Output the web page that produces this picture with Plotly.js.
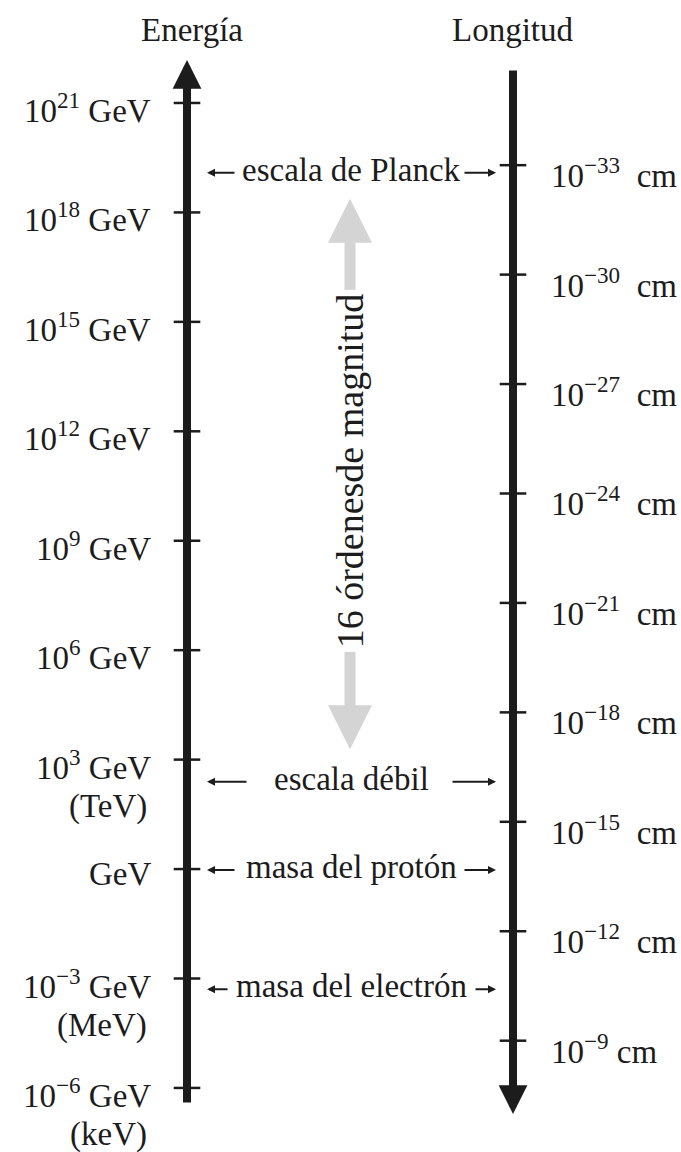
<!DOCTYPE html>
<html><head><meta charset="utf-8">
<script src="https://cdn.plot.ly/plotly-3.0.1.min.js"></script>
<style>html,body{margin:0;padding:0;background:#fff}</style>
</head><body><div id="chart" style="width:681px;height:1152px"></div>
<script>
// ---- data ----
const axisTitles = ['Energía', 'Longitud'];
const energyExponents = [21, 18, 15, 12, 9, 6, 3, 0, -3, -6];
const energyTickLabels = ['10<sup>21</sup> GeV', '10<sup>18</sup> GeV', '10<sup>15</sup> GeV', '10<sup>12</sup> GeV',
  '10<sup>9</sup> GeV', '10<sup>6</sup> GeV', '10<sup>3</sup> GeV', 'GeV', '10<sup>−3</sup> GeV', '10<sup>−6</sup> GeV'];
const energyUnitNotes = ['', '', '', '', '', '', '(TeV)', '', '(MeV)', '(keV)'];
const lengthExponents = [-33, -30, -27, -24, -21, -18, -15, -12, -9];
const lengthTickLabels = ['10<sup>−33</sup>\u00a0\u00a0cm', '10<sup>−30</sup>\u00a0\u00a0cm', '10<sup>−27</sup>\u00a0\u00a0cm',
  '10<sup>−24</sup>\u00a0\u00a0cm', '10<sup>−21</sup>\u00a0\u00a0cm', '10<sup>−18</sup>\u00a0\u00a0cm',
  '10<sup>−15</sup>\u00a0\u00a0cm', '10<sup>−12</sup>\u00a0\u00a0cm', '10<sup>−9</sup>\u00a0cm'];
const scaleNames = ['escala de Planck', 'escala débil', 'masa del protón', 'masa del electrón'];
const scaleEnergiesGeV = [1.22e19, 246, 0.938, 0.000511];
const spanLabel = '16 órdenesde magnitud';
const HBARC_GEV_CM = 1.97327e-14;   // E·L conversion

// ---- layout / style ----
const W = 681, H = 1152;
const PX_PER_DECADE = 36.48;
const E_TOP = 23.823;
const E_BOTTOM = E_TOP - H / PX_PER_DECADE;
const C = Math.log10(HBARC_GEV_CM);
const L_BOTTOM = C - E_BOTTOM, L_TOP = C - E_TOP;
const XL = 187, XR = 513;
const FONT = 'Liberation Serif';
const INK = '#1c1c1c';
const FS = 33;

const scaleLog = scaleEnergiesGeV.map(e => Math.log10(e));
const leftTails = [236, 248, 236, 229];
const rightTails = [463, 451, 463, 474];

const traces = [
  {x: energyExponents.map(() => XL), y: energyExponents, mode: 'markers', xaxis: 'x', yaxis: 'y',
   marker: {symbol: 'line-ew', size: 19, line: {width: 2.5, color: INK}}, hoverinfo: 'skip'},
  {x: lengthExponents.map(() => XR), y: lengthExponents, mode: 'markers', xaxis: 'x', yaxis: 'y2',
   marker: {symbol: 'line-ew', size: 19, line: {width: 2.5, color: INK}}, hoverinfo: 'skip'}
];

const ann = [];
// axis arrows
ann.push({x: XL, y: E_TOP - 60 / PX_PER_DECADE, ax: XL, ay: E_TOP - 1104 / PX_PER_DECADE,
  xref: 'x', yref: 'y', axref: 'x', ayref: 'y', text: '', showarrow: true,
  arrowhead: 2, arrowsize: 0.72, arrowwidth: 8, arrowcolor: INK});
ann.push({x: XR, y: C - (E_TOP - 1114 / PX_PER_DECADE), ax: XR, ay: C - (E_TOP - 69 / PX_PER_DECADE),
  xref: 'x', yref: 'y2', axref: 'x', ayref: 'y2', text: '', showarrow: true,
  arrowhead: 2, arrowsize: 0.72, arrowwidth: 8, arrowcolor: INK});
// titles
axisTitles.forEach((t, i) => ann.push({x: i === 0 ? 192 : 512, y: 1 - 30 / H, xref: 'x', yref: 'paper',
  yanchor: 'middle', xanchor: 'center',
  text: t, showarrow: false, font: {family: FONT, size: FS, color: INK}}));
// energy labels
energyExponents.forEach((e, i) => {
  ann.push({x: 153, y: e, xref: 'x', yref: 'y', xanchor: 'right', yanchor: 'middle', yshift: -5,
    text: energyTickLabels[i], showarrow: false, font: {family: FONT, size: FS, color: INK}});
  if (energyUnitNotes[i]) ann.push({x: 149, y: e, xref: 'x', yref: 'y', xanchor: 'right', yanchor: 'middle', yshift: -47,
    text: energyUnitNotes[i], showarrow: false, font: {family: FONT, size: FS, color: INK}});
});
// length labels
lengthExponents.forEach((l, i) => {
  ann.push({x: 549, y: l, xref: 'x', yref: 'y2', xanchor: 'left', yanchor: 'middle', yshift: -8,
    text: lengthTickLabels[i], showarrow: false, font: {family: FONT, size: FS, color: INK}});
});
// scale markers
scaleNames.forEach((n, i) => {
  const y = scaleLog[i];
  ann.push({x: 351, y: y, xref: 'x', yref: 'y', text: n, showarrow: false, yshift: 3,
    font: {family: FONT, size: FS, color: INK}});
  ann.push({x: 207, y: y, ax: leftTails[i], ay: y, xref: 'x', yref: 'y', axref: 'x', ayref: 'y',
    text: '', showarrow: true, arrowhead: 2, arrowsize: 0.8, arrowwidth: 2, arrowcolor: INK});
  ann.push({x: 496, y: y, ax: rightTails[i], ay: y, xref: 'x', yref: 'y', axref: 'x', ayref: 'y',
    text: '', showarrow: true, arrowhead: 2, arrowsize: 0.8, arrowwidth: 2, arrowcolor: INK});
});
// 16 orders of magnitude span
ann.push({x: 350, y: scaleLog[0], ax: 350, ay: scaleLog[1], xref: 'x', yref: 'y', axref: 'x', ayref: 'y',
  text: '', showarrow: true, arrowside: 'end+start', arrowhead: 2, startarrowhead: 2,
  arrowsize: 0.8, startarrowsize: 0.8, arrowwidth: 11, arrowcolor: '#d4d4d4',
  standoff: 26, startstandoff: 31});
ann.push({x: 350, y: (scaleLog[0] + scaleLog[1]) / 2, xref: 'x', yref: 'y', text: spanLabel,
  textangle: -90, showarrow: false, bgcolor: '#ffffff', yshift: 6, borderpad: 3,
  font: {family: FONT, size: 38, color: INK}});

const layout = {
  width: W, height: H, margin: {l: 0, r: 0, t: 0, b: 0},
  paper_bgcolor: '#fff', plot_bgcolor: '#fff', showlegend: false,
  xaxis: {range: [0, W], visible: false, fixedrange: true},
  yaxis: {range: [E_BOTTOM, E_TOP], visible: false, fixedrange: true},
  yaxis2: {range: [L_BOTTOM, L_TOP], overlaying: 'y', visible: false, fixedrange: true},
  annotations: ann
};
Plotly.newPlot('chart', traces, layout, {staticPlot: true, displayModeBar: false});
</script></body></html>
